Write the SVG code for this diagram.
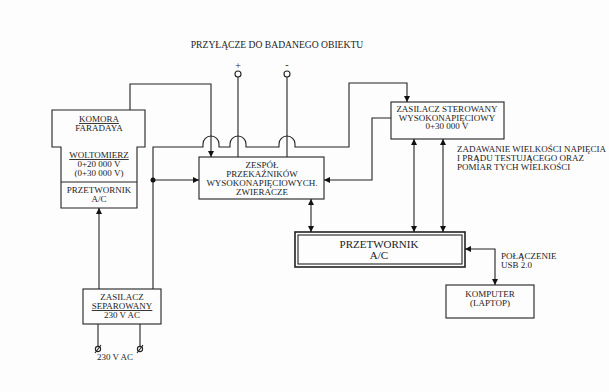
<svg xmlns="http://www.w3.org/2000/svg" width="609" height="392" viewBox="0 0 609 392">
<defs>
<marker id="arr" viewBox="0 0 10 10" refX="10" refY="5" markerWidth="7" markerHeight="6" markerUnits="userSpaceOnUse" orient="auto-start-reverse">
<path d="M0,0 L10,5 L0,10 Z" fill="#111"/>
</marker>
<style>
text{font-family:"Liberation Serif","Times New Roman",serif;font-size:9px;fill:#222;text-anchor:middle}
.l{text-anchor:start}
.box{fill:none;stroke:#222;stroke-width:1.1}
.c{fill:none;stroke:#222;stroke-width:1.1}
.u{text-decoration:underline}
</style>
</defs>
<rect width="609" height="392" fill="#fdfdfe"/>
<text x="277" y="48" style="font-size:9.6px">PRZYŁĄCZE DO BADANEGO OBIEKTU</text>

<g id="komora">
<path class="box" d="M52,110 H145 V147 H137 V208 H61 V147 H52 Z"/>
<line class="box" x1="61" y1="182" x2="137" y2="182"/>
<text x="99" y="122" class="u">KOMORA</text>
<text x="99" y="131">FARADAYA</text>
<text x="99" y="158" class="u">WOLTOMIERZ</text>
<text x="99" y="167">0+20 000 V</text>
<text x="99" y="176">(0+30 000 V)</text>
<text x="99" y="193">PRZETWORNIK</text>
<text x="99" y="202">A/C</text>
</g>

<g id="zespol">
<rect class="box" x="199" y="157" width="125" height="42"/>
<text x="262" y="168">ZESPÓŁ</text>
<text x="262" y="176.5">PRZEKAŹNIKÓW</text>
<text x="262" y="185.5">WYSOKONAPIĘCIOWYCH.</text>
<text x="262" y="195">ZWIERACZE</text>
</g>

<g id="zasilacz-sterowany">
<rect class="box" x="391" y="102" width="113" height="37"/>
<text x="447" y="112">ZASILACZ STEROWANY</text>
<text x="447" y="120.5">WYSOKONAPIĘCIOWY</text>
<text x="447" y="129">0+30 000 V</text>
</g>

<g id="przetwornik">
<rect x="295" y="232" width="170" height="35" fill="none" stroke="#222" stroke-width="1.6"/>
<rect class="box" x="298" y="235" width="164" height="29"/>
<text x="379" y="248" style="font-size:11px">PRZETWORNIK</text>
<text x="379" y="259" style="font-size:11px">A/C</text>
</g>

<g id="komputer">
<rect class="box" x="446" y="285" width="88" height="33"/>
<text x="490" y="297">KOMPUTER</text>
<text x="490" y="306">(LAPTOP)</text>
</g>

<g id="zasilacz-separowany">
<rect class="box" x="83" y="289" width="78" height="35"/>
<text x="122" y="300">ZASILACZ</text>
<text x="122" y="309" class="u">SEPAROWANY</text>
<text x="122" y="318">230 V AC</text>
</g>

<g id="zacisk-plus">
<text x="238" y="69" style="font-size:10px">+</text>
<circle cx="238" cy="74" r="3" class="c"/>
</g>
<g id="zacisk-minus">
<text x="287" y="68" style="font-size:10px">-</text>
<circle cx="287" cy="74" r="3" class="c"/>
</g>

<g id="zasilanie">
<circle cx="98" cy="349" r="2.6" class="c"/>
<line x1="95" y1="353" x2="101" y2="345" class="c"/>
<circle cx="140" cy="349" r="2.6" class="c"/>
<line x1="137" y1="353" x2="143" y2="345" class="c"/>
<text x="115" y="360">230 V AC</text>
</g>

<g id="opisy">
<text class="l" x="457" y="152">ZADAWANIE WIELKOŚCI NAPIĘCIA</text>
<text class="l" x="457" y="161">I PRĄDU TESTUJĄCEGO ORAZ</text>
<text class="l" x="457" y="170">POMIAR TYCH WIELKOŚCI</text>
<text class="l" x="501" y="259">POŁĄCZENIE</text>
<text class="l" x="501" y="268">USB 2.0</text>
</g>

<g id="connectors">
<path class="c" d="M130,110 V84 H211 V157" marker-end="url(#arr)"/>
<path class="c" d="M153,289 V147 H203 v-3 a8,8 0 0 1 16,0 v3 H230 v-3 a8,8 0 0 1 16,0 v3 H279 v-3 a8,8 0 0 1 16,0 v3 H349 V83 H407 V102" marker-end="url(#arr)"/>
<circle cx="153" cy="180" r="2.5" fill="#111"/>
<path class="c" d="M153,180 H199" marker-end="url(#arr)"/>
<path class="c" d="M391,118 H372 V180 H324" marker-end="url(#arr)"/>
<path class="c" d="M414,139 V232" marker-start="url(#arr)" marker-end="url(#arr)"/>
<path class="c" d="M443,139 V232" marker-start="url(#arr)" marker-end="url(#arr)"/>
<path class="c" d="M311,199 V232" marker-start="url(#arr)" marker-end="url(#arr)"/>
<path class="c" d="M465,249 H495 V285" marker-start="url(#arr)" marker-end="url(#arr)"/>
<path class="c" d="M99,289 V208" marker-end="url(#arr)"/>
<path class="c" d="M238,77 V157"/>
<path class="c" d="M287,77 V157"/>
<path class="c" d="M98,324 V346.4"/>
<path class="c" d="M140,324 V346.4"/>
</g>
</svg>
